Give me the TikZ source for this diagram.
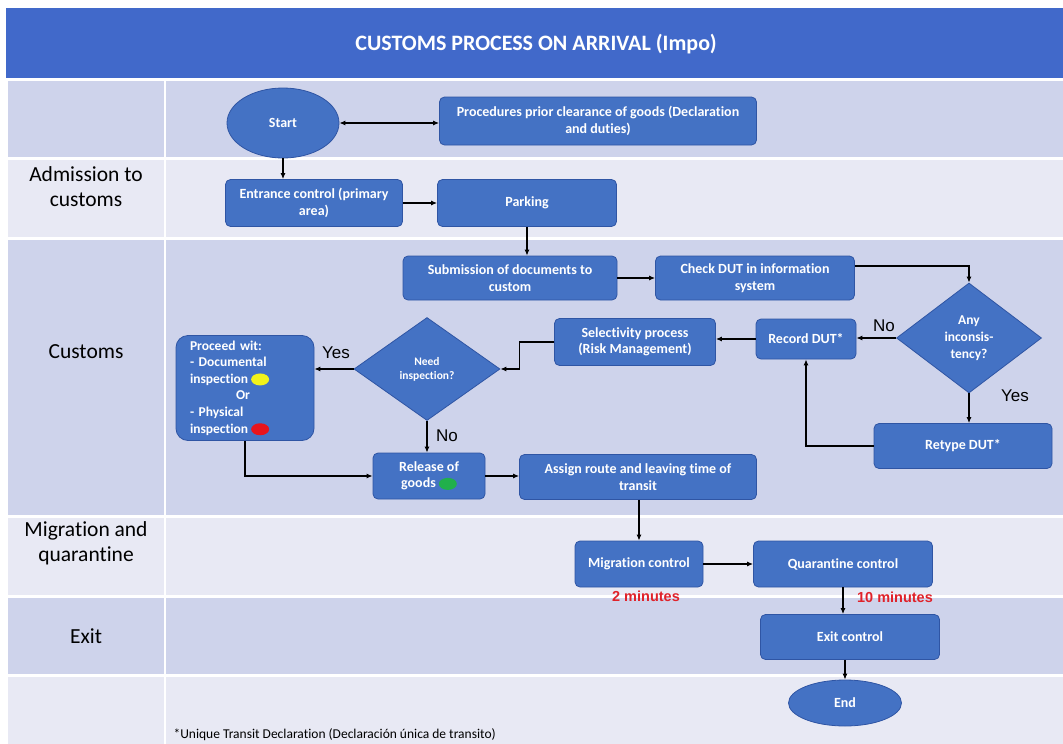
\documentclass[tikz,border=0pt]{standalone}
\usepackage{fontspec}
\setmainfont{Carlito}[Ligatures=NoCommon]
\newfontfamily\arialf{Liberation Sans}
\usetikzlibrary{shapes.geometric,arrows.meta}
\definecolor{boxblue}{HTML}{4472C4}
\definecolor{boxedge}{HTML}{2F55A4}
\definecolor{titleblue}{HTML}{4169CA}
\definecolor{rowdark}{HTML}{CED3EB}
\definecolor{rowlight}{HTML}{E8E9F4}
\definecolor{dotyellow}{HTML}{F2F21A}
\definecolor{dotred}{HTML}{E8141C}
\definecolor{dotgreen}{HTML}{21B04B}
\definecolor{timered}{HTML}{E0222A}
\newcommand{\colordotmark}[1]{\hspace{3pt}\tikz[baseline=-0.6ex]\fill[#1] (0,0) ellipse (9pt and 6pt);}
\begin{document}
\begin{tikzpicture}[x=1pt,y=-1pt,
  proc/.style={draw=boxedge, line width=0.8pt, fill=boxblue, rounded corners=5pt, text=white,
    font=\bfseries\fontsize{14}{16.5}\selectfont, align=center, inner sep=2pt},
  term/.style={proc, ellipse, rounded corners=0pt},
  dec/.style={proc, diamond, rounded corners=0pt, inner sep=0pt},
  arr/.style={-{Latex[length=6pt,width=5pt]}, line width=1.1pt, black},
  dblarr/.style={{Latex[length=6pt,width=5pt]}-{Latex[length=6pt,width=5pt]}, line width=1.1pt, black},
  yn/.style={font=\arialf\fontsize{17}{19}\selectfont, text=black},
  tlabel/.style={font=\arialf\bfseries\fontsize{14.5}{16}\selectfont, text=timered},
  rowlab/.style={font=\fontsize{21.5}{25}\selectfont, align=center, text=black}]
\useasboundingbox (0,0) rectangle (1063,744);
\fill[white] (0,0) rectangle (1063,744);
% bands
\fill[titleblue] (6,8) rectangle (1063,78);
\fill[rowdark] (8,81) rectangle (1063,157);
\fill[rowlight] (8,160) rectangle (1063,237);
\fill[rowdark] (8,240) rectangle (1063,515);
\fill[rowlight] (8,518) rectangle (1063,595);
\fill[rowdark] (8,598) rectangle (1063,674);
\fill[rowlight] (8,677) rectangle (1063,744);
\draw[white, line width=2.5pt] (165,80) -- (165,744);
\node[font=\bfseries\fontsize{22}{25}\selectfont, text=white] (title) at (536,44) {CUSTOMS PROCESS ON ARRIVAL (Impo)};
% row labels
\node[rowlab] (lab1) at (86,187) {Admission to\\customs};
\node[rowlab] (lab2) at (86,352) {Customs};
\node[rowlab] (lab3) at (86,543) {Migration and\\quarantine};
\node[rowlab] (lab4) at (86,636) {Exit};
% nodes
\node[term, minimum width=112pt, minimum height=70pt] (start) at (283,123) {Start};
\node[proc, minimum width=317pt, minimum height=48pt] (prior) at (598,121) {Procedures prior clearance of goods (Declaration\\and duties)};
\node[proc, minimum width=177pt, minimum height=47pt] (entr) at (314,203) {Entrance control (primary\\area)};
\node[proc, minimum width=179pt, minimum height=47pt] (park) at (527,203) {Parking};
\node[proc, minimum width=214pt, minimum height=44pt] (subm) at (510,278) {Submission of documents to\\custom};
\node[proc, minimum width=199pt, minimum height=44pt] (check) at (755,278) {Check DUT in information\\system};
\node[dec, minimum width=145pt, minimum height=110pt, font=\bfseries\fontsize{13.5}{17}\selectfont] (incon) at (969,338) {Any\\inconsis-\\tency?};
\node[proc, minimum width=100pt, minimum height=40pt] (rec) at (806,339) {Record DUT*};
\node[proc, minimum width=178pt, minimum height=45pt] (retype) at (963,446) {Retype DUT*};
\node[proc, minimum width=161pt, minimum height=47pt] (sel) at (635,342) {Selectivity process\\(Risk Management)};
\node[dec, minimum width=146pt, minimum height=103pt, font=\bfseries\fontsize{11.5}{14}\selectfont] (need) at (427,369) {Need\\inspection?};
\node[proc, rounded corners=12pt, minimum width=138pt, minimum height=105pt, align=left,
  font=\bfseries\fontsize{13.5}{16.6}\selectfont, text width=110pt, inner xsep=14pt, inner ysep=4pt] (insp) at (245,388)
  {Proceed wit:\\- Documental\\inspection\colordotmark{dotyellow}\\\hspace*{46pt}Or\\- Physical\\inspection\colordotmark{dotred}};
\node[proc, minimum width=112pt, minimum height=46pt, font=\bfseries\fontsize{14}{16.5}\selectfont] (rel) at (429,476) {Release of\\goods\colordotmark{dotgreen}};
\node[proc, minimum width=237pt, minimum height=45pt] (assign) at (638,477) {Assign route and leaving time of\\transit};
\node[proc, minimum width=128pt, minimum height=46pt] (mig) at (639,564) {Migration control};
\node[proc, minimum width=179pt, minimum height=46pt] (quar) at (843,564) {Quarantine control};
\node[proc, minimum width=179pt, minimum height=45pt] (exitc) at (850,637) {Exit control};
\node[term, minimum width=113pt, minimum height=46pt] (endn) at (845,703) {End};
% labels
\node[yn] (yes1) at (336,353) {Yes};
\node[yn] (no1) at (447,436) {No};
\node[yn] (no2) at (884,326) {No};
\node[yn] (yes2) at (1015,396) {Yes};
\node[tlabel] (t2) at (646,596) {2 minutes};
\node[tlabel] (t10) at (895,597) {10 minutes};
\node[anchor=west, font=\fontsize{13.5}{15}\selectfont, text=black] (foot) at (170,735) {*Unique Transit Declaration (Declaración única de transito)};
% connectors
\draw[dblarr] (start.east) -- (start.east -| prior.west);
\draw[arr] (start.south) -- (start.south |- entr.north);
\draw[arr] (entr.east) -- (park.west);
\draw[arr] (park.south) -- (park.south |- subm.north);
\draw[arr] (subm.east) -- (check.west);
\draw[arr] ([yshift=12pt]check.east) -| (incon.north);
\draw[arr] (incon.west) -- (incon.west -| rec.east);
\draw[arr] (incon.south) -- (incon.south |- retype.north);
\draw[arr] (retype.west) -| (rec.south);
\draw[arr] (rec.west) -- (rec.west -| sel.east);
\draw[arr] (sel.west) -- ++(-35,0) |- (need.east);
\draw[arr] (need.west) -- (need.west -| insp.east);
\draw[arr] (need.south) -- (need.south |- rel.north);
\draw[arr] (insp.south) |- (rel.west);
\draw[arr] (rel.east) -- (rel.east -| assign.west);
\draw[arr] (assign.south -| mig.north) -- (mig.north);
\draw[arr] (mig.east) -- (mig.east -| quar.west);
\draw[arr] (quar.south) -- (quar.south |- exitc.north);
\draw[arr] (exitc.south -| endn.north) -- (endn.north);
\end{tikzpicture}
\end{document}
